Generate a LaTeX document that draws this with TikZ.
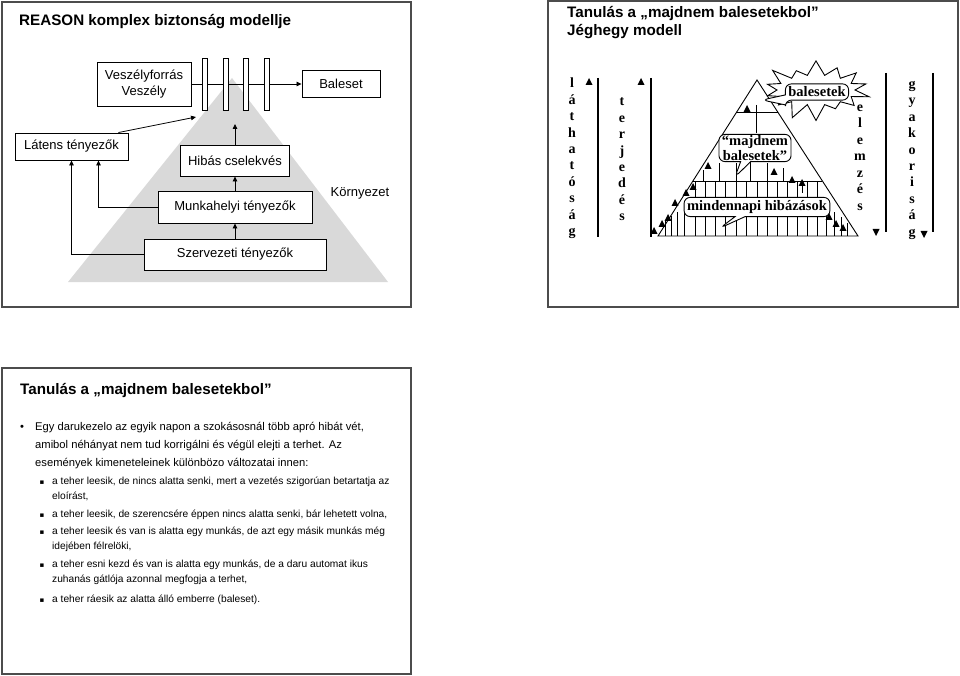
\documentclass[tikz,border=0pt]{standalone}
\usepackage{fontspec}
\setmainfont{Liberation Sans}
\newfontfamily\timesfont{Liberation Serif}
\newfontfamily\symfont{DejaVu Sans}
\usetikzlibrary{arrows.meta,shapes.symbols,shapes.callouts}

\begin{document}
\begin{tikzpicture}[x=1pt,y=-1pt,>={Triangle[length=5pt,width=4.5pt]},
        panel/.style={draw=black!70,line width=1.4pt},
        slidetitle/.style={anchor=base west,inner sep=0pt,font=\bfseries\fontsize{15.2}{18}\selectfont},
        reabox/.style={draw,line width=0.9pt,fill=white,align=center,inner sep=0pt,
                       font=\fontsize{13}{16}\selectfont},
        gatebar/.style={draw,line width=0.9pt,fill=white,minimum width=5pt,
                        minimum height=52pt,inner sep=0pt},
        flow/.style={->,line width=0.8pt},
        colline/.style={line width=2pt},
        pyr/.style={line width=0.9pt},
        vletter/.style={anchor=base,inner sep=0pt,font=\timesfont\bfseries\fontsize{14}{15}\selectfont},
        burst/.style={starburst,draw,line width=0.9pt,fill=white,minimum width=112pt,
                      minimum height=64pt,starburst points=14,starburst point height=17pt,
                      random starburst=60},
        bubble/.style={rectangle callout,draw,line width=0.9pt,fill=white,rounded corners=6pt,
                       callout pointer width=10pt,align=center,inner xsep=3pt,inner ysep=3pt,
                       font=\timesfont\bfseries\fontsize{14.5}{15}\selectfont},
        upmark/.pic={\fill (-3.5,3) -- (3.5,3) -- (0,-4) -- cycle;},
        downmark/.pic={\fill (-3.5,-3) -- (3.5,-3) -- (0,4) -- cycle;},
        bodyline/.style={anchor=base west,inner sep=0pt,font=\fontsize{11.2}{13}\selectfont},
        subline/.style={anchor=base west,inner sep=0pt,font=\fontsize{10.2}{12}\selectfont}]
    \useasboundingbox (0,0) rectangle (960,676);

    % REASON slide
    \draw[panel] (2,2) rectangle (411,307);
    \node[slidetitle] (tit1) at (19,26) {REASON komplex biztonság modellje};
    \fill[black!15] (68,282) -- (232,78) -- (388,282) -- cycle;
    \node[reabox,minimum width=94pt,minimum height=44pt] (vesz) at (144,84) {Veszélyforrás\\Veszély};
    \node[reabox,minimum width=78pt,minimum height=27pt] (bal) at (341,84) {Baleset};
    \draw[flow] (vesz) -- (bal);
    \foreach \gx [count=\i] in {204.5,225.5,245.5,266.5}
        \node[gatebar] (gate\i) at (\gx,84) {};
    \node[reabox,minimum width=113pt,minimum height=27pt] (lat) at (71.5,146.5) {Látens tényezők};
    \node[reabox,minimum width=109pt,minimum height=31pt] (hib) at (235,160.5) {Hibás cselekvés};
    \node[reabox,minimum width=154pt,minimum height=32pt] (munk) at (235,207) {Munkahelyi tényezők};
    \node[reabox,minimum width=182pt,minimum height=31pt] (szerv) at (235,254.5) {Szervezeti tényezők};
    \node[font=\fontsize{13}{16}\selectfont] (korny) at (360,193) {Környezet};
    \coordinate (gateL) at (196,117);
    \coordinate (gateB) at (235,124);

    \draw[flow] ([xshift=-10pt]lat.north east) -- (gateL);
    \draw[flow] (hib) -- (gateB);
    \draw[flow] (munk) -- (hib);
    \draw[flow] (szerv) -- (munk);
    \draw[flow] (munk.west) -| ([xshift=27pt]lat.south);
    \draw[flow] (szerv.west) -| (lat.south);

    % iceberg slide
    \draw[panel] (548,1) rectangle (958,307);
    \node[slidetitle] (tit2a) at (567,18) {Tanulás a „majdnem balesetekbol”};
    \node[slidetitle] (tit2b) at (567,36) {Jéghegy modell};

    \draw[colline] (598,78) -- (598,237);
    \pic at (589,82) {upmark};
    \draw[colline] (651,78) -- (651,237);
    \pic at (641,82) {upmark};
    \draw[colline] (886,73) -- (886,232);
    \pic at (876,232) {downmark};
    \draw[colline] (933,73) -- (933,232);
    \pic at (924,234) {downmark};

    \foreach \c [count=\i] in {l,á,t,h,a,t,ó,s,á,g}
        \node[vletter] (lath\i) at (572,{88+16.4*(\i-1)}) {\c};
    \foreach \c [count=\i] in {t,e,r,j,e,d,é,s}
        \node[vletter] (terj\i) at (622,{106+16.4*(\i-1)}) {\c};
    \foreach \c [count=\i] in {e,l,e,m,z,é,s}
        \node[vletter] (elem\i) at (860,{111.5+16.5*(\i-1)}) {\c};
    \foreach \c [count=\i] in {g,y,a,k,o,r,i,s,á,g}
        \node[vletter] (gyak\i) at (912,{88.5+16.4*(\i-1)}) {\c};

    \draw[pyr] (658,236) -- (757,80) -- (858,236) -- cycle;
    \draw[pyr] (736.7,112) -- (777.7,112);
    \draw[pyr] (692.9,181) -- (822.4,181);
    \draw[pyr] (756,105) -- (756,133);
    \foreach \vx/\vt in {665/220,671/216,677/212,684/210,695/181,705/181,715/181,725/181,
                         736/181,746/181,757/181,767/181,777/181,787/181,797/181,807/181,
                         817/181,826/200,834/212,841/217,847/223}
        \draw[pyr] (\vx,236) -- (\vx,\vt);
    \foreach \vx/\vt in {703/170,719/163,736/163,750/160,767/163,783/168}
        \draw[pyr] (\vx,181) -- (\vx,\vt);
    \draw[pyr] (802,193) -- (802,185);

    \node[burst] (boom) at (816,90) {};
    \node[bubble,callout absolute pointer={(762,100)}] (acc) at (817,92) {balesetek};
    \node[bubble,callout absolute pointer={(735,177)},inner ysep=1pt] (near) at (755,148) {“majdnem\\balesetek”};
    \node[bubble,callout absolute pointer={(720,228)}] (daily) at (757,207) {mindennapi hibázások};

    \foreach \mx/\my in {747/109,708/166,774/172,792/180,802/183,693/187,686/193,675/203,
                         668/218,662/224,654/231,829/217,836/224,843/228}
        \pic at (\mx,\my) {upmark};

    % text slide
    \draw[panel] (2,368) rectangle (411,674);
    \node[slidetitle] (tit3) at (20,394) {Tanulás a „majdnem balesetekbol”};
    \node[bodyline] (dot) at (20,430) {•};
    \foreach \yy/\txt [count=\i] in {430/{Egy darukezelo az egyik napon a szokásosnál több apró hibát vét,},
                                     448/{amibol néhányat nem tud korrigálni és végül elejti a terhet. Az},
                                     466/{események kimeneteleinek különbözo változatai innen:}}
        \node[bodyline] (par\i) at (35,\yy) {\txt};
    \foreach \yy in {484,517,534,567,602}
        \node[subline,font=\symfont\fontsize{7}{8}\selectfont] (sq\yy) at (39.5,\yy) {▪};
    \foreach \yy/\txt [count=\i] in {484/{a teher leesik, de nincs alatta senki, mert a vezetés szigorúan betartatja az},
                                     499/{eloírást,},
                                     517/{a teher leesik, de szerencsére éppen nincs alatta senki, bár lehetett volna,},
                                     534/{a teher leesik és van is alatta egy munkás, de azt egy másik munkás még},
                                     549/{idejében félrelöki,},
                                     567/{a teher esni kezd és van is alatta egy munkás, de a daru automat ikus},
                                     582/{zuhanás gátlója azonnal megfogja a terhet,},
                                     602/{a teher ráesik az alatta álló emberre (baleset).}}
        \node[subline] (sub\i) at (52,\yy) {\txt};
\end{tikzpicture}
\end{document}
